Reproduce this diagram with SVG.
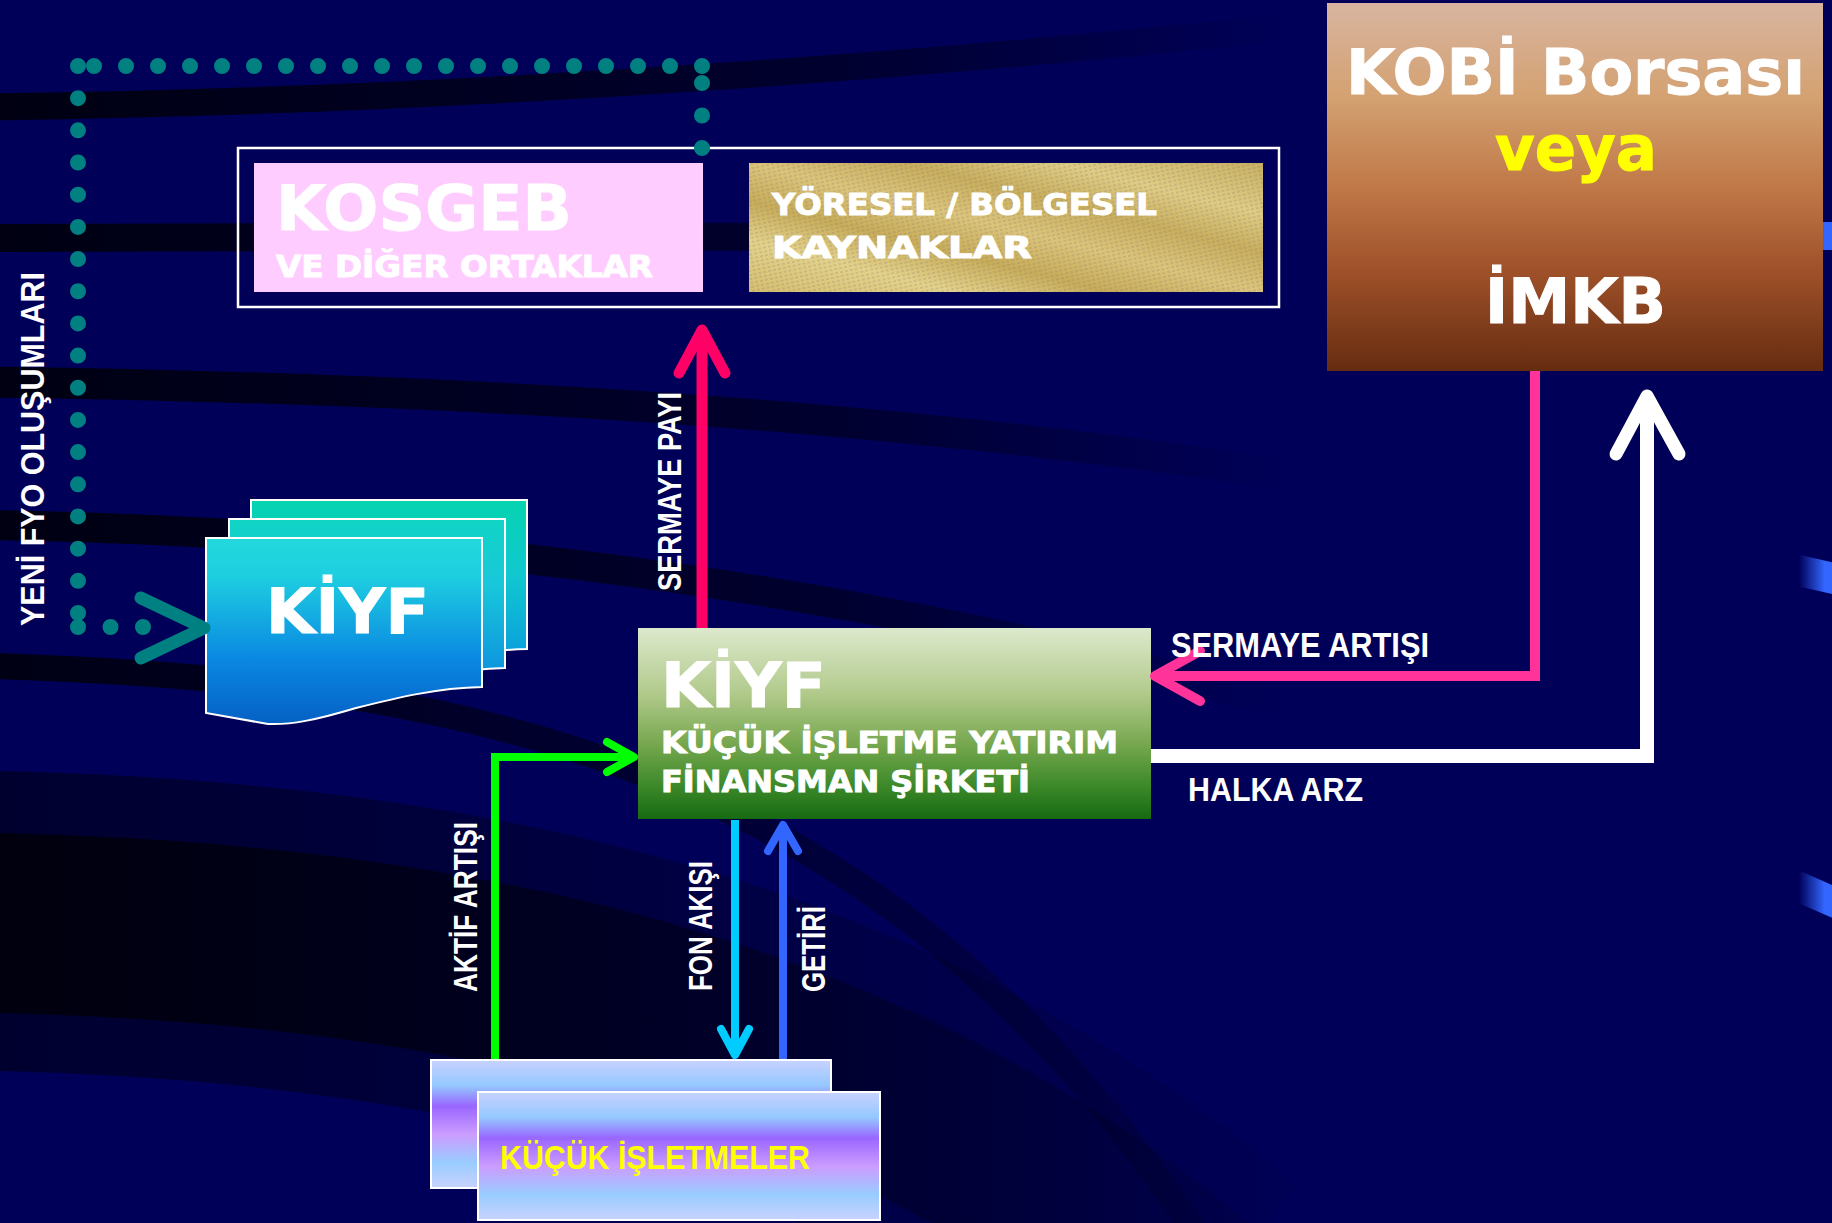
<svg xmlns="http://www.w3.org/2000/svg" width="1832" height="1223" viewBox="0 0 1832 1223">
<defs>
<style>
.h{font-family:"DejaVu Sans","Liberation Sans",sans-serif;font-weight:bold;fill:#fff;stroke:#fff;stroke-width:1}
.l{font-family:"Liberation Sans",Arial,sans-serif;font-weight:bold;fill:#fff}
.band{fill:none;stroke:url(#bandG)}
.dark{fill:none;stroke:url(#darkG)}
.box{stroke:#fff;stroke-width:2}
.ln{fill:none;stroke-linejoin:miter}
.ah{fill:none;stroke-linecap:round;stroke-linejoin:round}
.dots{fill:none;stroke:#008080;stroke-width:16;stroke-linecap:round}
</style>
<linearGradient id="bandG" gradientUnits="userSpaceOnUse" x1="0" y1="0" x2="1832" y2="0">
<stop offset="0" stop-color="#00000c" stop-opacity="0.92"/>
<stop offset="0.45" stop-color="#00000c" stop-opacity="0.55"/>
<stop offset="0.7" stop-color="#00000c" stop-opacity="0"/>
<stop offset="0.982" stop-color="#3366ff" stop-opacity="0"/>
<stop offset="0.996" stop-color="#3366ff" stop-opacity="1"/>
</linearGradient>
<linearGradient id="darkG" gradientUnits="userSpaceOnUse" x1="0" y1="0" x2="1400" y2="0">
<stop offset="0" stop-color="#000008" stop-opacity="0.85"/>
<stop offset="0.5" stop-color="#000008" stop-opacity="0.45"/>
<stop offset="1" stop-color="#000008" stop-opacity="0"/>
</linearGradient>
<linearGradient id="kobiG" x1="0" y1="0" x2="0" y2="1">
<stop offset="0" stop-color="#d8b4a0"/>
<stop offset="0.25" stop-color="#d4a272"/>
<stop offset="0.5" stop-color="#c07848"/>
<stop offset="0.72" stop-color="#a0522a"/>
<stop offset="1" stop-color="#662c10"/>
</linearGradient>
<linearGradient id="greenG" x1="0" y1="0" x2="0" y2="1">
<stop offset="0" stop-color="#dde9cc"/>
<stop offset="0.35" stop-color="#b0c98a"/>
<stop offset="0.6" stop-color="#78a850"/>
<stop offset="0.82" stop-color="#3e8a2a"/>
<stop offset="1" stop-color="#166a12"/>
</linearGradient>
<linearGradient id="docFront" x1="0" y1="0" x2="0" y2="1">
<stop offset="0" stop-color="#22d8dc"/>
<stop offset="0.2" stop-color="#1ecfe0"/>
<stop offset="0.65" stop-color="#0a88e2"/>
<stop offset="1" stop-color="#0560c4"/>
</linearGradient>
<linearGradient id="docMid" x1="0" y1="0" x2="0" y2="1">
<stop offset="0" stop-color="#10d4c4"/>
<stop offset="0.35" stop-color="#18c8da"/>
<stop offset="1" stop-color="#0a80e0"/>
</linearGradient>
<linearGradient id="docBack" x1="0" y1="0" x2="0" y2="1">
<stop offset="0" stop-color="#06d4b0"/>
<stop offset="0.4" stop-color="#10c8d0"/>
<stop offset="1" stop-color="#0a90e0"/>
</linearGradient>
<linearGradient id="kucukG" x1="0" y1="0" x2="0" y2="1">
<stop offset="0" stop-color="#c8d2ff"/>
<stop offset="0.2" stop-color="#94c8ff"/>
<stop offset="0.36" stop-color="#9966ff"/>
<stop offset="0.58" stop-color="#cc9cff"/>
<stop offset="0.8" stop-color="#99ccff"/>
<stop offset="1" stop-color="#c8d2ff"/>
</linearGradient>
<linearGradient id="goldG" x1="0" y1="1" x2="1" y2="0">
<stop offset="0" stop-color="#d6be6e"/>
<stop offset="0.2" stop-color="#e4d28a"/>
<stop offset="0.35" stop-color="#c8ac58"/>
<stop offset="0.5" stop-color="#dcc47a"/>
<stop offset="0.65" stop-color="#c9ae5c"/>
<stop offset="0.8" stop-color="#e0cc84"/>
<stop offset="1" stop-color="#c8b060"/>
</linearGradient>
<pattern id="goldTex" width="5" height="4" patternUnits="userSpaceOnUse" patternTransform="rotate(-12)">
<line x1="0" y1="1" x2="3" y2="1" stroke="#7a7a7a" stroke-opacity="0.45" stroke-width="1"/>
</pattern>
<path id="doc" d="M0,0 H276 V149 C230,150 190,160 150,170 C110,182 85,187 62,186 L0,175 Z"/>
</defs>

<rect width="1832" height="1223" fill="#000058"/>
<g id="background">
<path class="band" stroke-width="27" d="M-10,107 C500,100 1000,60 1400,15"/>
<path class="band" stroke-width="28" d="M-10,238 C600,236 1200,236 1840,236"/>
<path class="band" stroke-width="31" d="M-10,382 C600,390 1200,430 1840,580"/>
<path class="band" stroke-width="30" d="M-10,525 C600,535 1250,640 1840,905"/>
<path class="dark" stroke-width="26" d="M-10,666 C500,680 900,780 1200,1240"/>
<path class="dark" stroke-width="300" stroke-opacity="0.6" d="M-60,920 C400,925 850,1000 1200,1300"/>
<path class="dark" stroke-width="180" d="M-60,922 C400,927 850,1000 1200,1300"/>
</g>

<g id="node-kaynaklar-frame">
<rect x="238" y="148" width="1041" height="159" fill="none" stroke="#fff" stroke-width="2.5"/>
</g>

<g id="node-kosgeb">
<rect x="254" y="163" width="449" height="129" fill="#ffccff"/>
<text class="h" x="276" y="230" font-size="62" textLength="296" lengthAdjust="spacingAndGlyphs">KOSGEB</text>
<text class="h" x="276" y="277" font-size="31" textLength="377" lengthAdjust="spacingAndGlyphs">VE DİĞER ORTAKLAR</text>
</g>

<g id="node-yoresel">
<rect x="749" y="163" width="514" height="129" fill="url(#goldG)"/>
<rect x="749" y="163" width="514" height="129" fill="url(#goldTex)"/>
<text class="h" x="772" y="215" font-size="31" textLength="385" lengthAdjust="spacingAndGlyphs">YÖRESEL / BÖLGESEL</text>
<text class="h" x="772" y="258" font-size="31" textLength="260" lengthAdjust="spacingAndGlyphs">KAYNAKLAR</text>
</g>

<g id="node-kobi-borsasi">
<rect x="1327" y="3" width="496" height="368" fill="url(#kobiG)"/>
<text class="h" x="1346" y="94" font-size="62" textLength="459" lengthAdjust="spacingAndGlyphs">KOBİ Borsası</text>
<text class="h" x="1576" y="170" font-size="62" text-anchor="middle" style="fill:#ffff00;stroke:#ffff00" textLength="162" lengthAdjust="spacingAndGlyphs">veya</text>
<text class="h" x="1485" y="323" font-size="62" textLength="181" lengthAdjust="spacingAndGlyphs">İMKB</text>
</g>

<g id="node-kiyf-fonlar">
<use href="#doc" x="251" y="500" fill="url(#docBack)" stroke="#fff" stroke-width="2"/>
<use href="#doc" x="229" y="519" fill="url(#docMid)" stroke="#fff" stroke-width="2"/>
<use href="#doc" x="206" y="538" fill="url(#docFront)" stroke="#fff" stroke-width="2"/>
<text class="h" x="266" y="633" font-size="63" textLength="163" lengthAdjust="spacingAndGlyphs">KİYF</text>
</g>

<g id="node-kiyf-sirket">
<rect x="638" y="628" width="513" height="191" fill="url(#greenG)"/>
<text class="h" x="661" y="707" font-size="63" textLength="165" lengthAdjust="spacingAndGlyphs">KİYF</text>
<text class="h" x="661" y="753" font-size="31" textLength="457" lengthAdjust="spacingAndGlyphs">KÜÇÜK İŞLETME YATIRIM</text>
<text class="h" x="661" y="792" font-size="31" textLength="369" lengthAdjust="spacingAndGlyphs">FİNANSMAN ŞİRKETİ</text>
</g>

<g id="node-kucuk-isletmeler">
<rect class="box" x="431" y="1060" width="400" height="128" fill="url(#kucukG)"/>
<rect class="box" x="478" y="1092" width="402" height="128" fill="url(#kucukG)"/>
<text class="l" x="500" y="1169" font-size="34" style="fill:#ffff00" textLength="310" lengthAdjust="spacingAndGlyphs">KÜÇÜK İŞLETMELER</text>
</g>

<g id="connectors">
<g id="c-yeni-fyo">
<path class="dots" stroke-dasharray="0 32.176" d="M78,66 V613.5"/>
<path class="dots" stroke-dasharray="0 32" d="M94,66 H702.5"/>
<path class="dots" stroke-dasharray="0 32.5" d="M702,83 V148.5"/>
<path class="dots" stroke-dasharray="0 32.5" d="M78,627 H143.5"/>
<polyline class="ah" points="141,598 204,628 141,658" stroke="#008080" stroke-width="13"/>
<text class="l" font-size="34" transform="translate(44,626) rotate(-90)" textLength="354" lengthAdjust="spacingAndGlyphs">YENİ FYO OLUŞUMLARI</text>
</g>
<g id="c-sermaye-payi">
<path class="ln" d="M702,628 V333" stroke="#ff0066" stroke-width="11"/>
<polyline class="ah" points="679,373 702,330 725,373" stroke="#ff0066" stroke-width="11"/>
<text class="l" font-size="33" transform="translate(681,591) rotate(-90)" textLength="199" lengthAdjust="spacingAndGlyphs">SERMAYE PAYI</text>
</g>
<g id="c-sermaye-artisi">
<path class="ln" d="M1535,371 V676 H1162" stroke="#ff3399" stroke-width="10"/>
<polyline class="ah" points="1200,651 1155,676 1200,701" stroke="#ff3399" stroke-width="10"/>
<text class="l" x="1171" y="657" font-size="35" textLength="258" lengthAdjust="spacingAndGlyphs">SERMAYE ARTIŞI</text>
</g>
<g id="c-halka-arz">
<path class="ln" d="M1151,756 H1647 V397" stroke="#fff" stroke-width="14"/>
<polyline class="ah" points="1616,454 1647,396 1679,454" stroke="#fff" stroke-width="13"/>
<text class="l" x="1188" y="801" font-size="33" textLength="175" lengthAdjust="spacingAndGlyphs">HALKA ARZ</text>
</g>
<g id="c-aktif-artisi">
<path class="ln" d="M495,1059 V757 H632" stroke="#00ff00" stroke-width="8"/>
<polyline class="ah" points="607,742 634,757 607,772" stroke="#00ff00" stroke-width="8"/>
<text class="l" font-size="34" transform="translate(477,992) rotate(-90)" textLength="170" lengthAdjust="spacingAndGlyphs">AKTİF ARTIŞI</text>
</g>
<g id="c-fon-akisi">
<path class="ln" d="M735,820 V1052" stroke="#00ccff" stroke-width="8"/>
<polyline class="ah" points="721,1029 735,1055 749,1029" stroke="#00ccff" stroke-width="8"/>
<text class="l" font-size="33" transform="translate(712,991) rotate(-90)" textLength="130" lengthAdjust="spacingAndGlyphs">FON AKIŞI</text>
</g>
<g id="c-getiri">
<path class="ln" d="M783,1059 V828" stroke="#3366ff" stroke-width="8"/>
<polyline class="ah" points="768,851 783,825 798,851" stroke="#3366ff" stroke-width="8"/>
<text class="l" font-size="34" transform="translate(825,992) rotate(-90)" textLength="86" lengthAdjust="spacingAndGlyphs">GETİRİ</text>
</g>
</g>
</svg>
